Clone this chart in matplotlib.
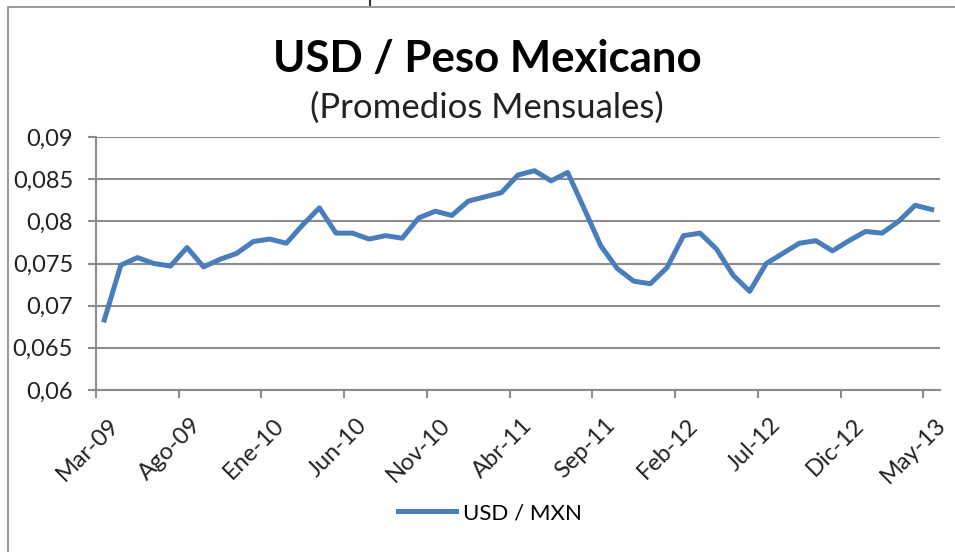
import matplotlib
matplotlib.use("Agg")
import matplotlib.pyplot as plt
from matplotlib.patches import Rectangle
from matplotlib.lines import Line2D
from matplotlib.transforms import ScaledTranslation

# monthly averages, Mar-09 .. May-13
values = [
    0.0683, 0.0748, 0.0757, 0.0750, 0.0747, 0.0769, 0.0746, 0.0755, 0.0762, 0.0776,
    0.0779, 0.0774, 0.0796, 0.0816, 0.0786, 0.0786, 0.0779, 0.0783, 0.0780, 0.0804,
    0.0812, 0.0807, 0.0824, 0.0829, 0.0834, 0.0855, 0.0860, 0.0848, 0.0858, 0.0815,
    0.0771, 0.0744, 0.0729, 0.0726, 0.0745, 0.0783, 0.0786, 0.0767, 0.0736, 0.0717,
    0.0750, 0.0762, 0.0774, 0.0777, 0.0765, 0.0777, 0.0788, 0.0786, 0.0800, 0.0819,
    0.0814,
]
x_labels = ['Mar-09', 'Ago-09', 'Ene-10', 'Jun-10', 'Nov-10', 'Abr-11',
            'Sep-11', 'Feb-12', 'Jul-12', 'Dic-12', 'May-13']
y_ticks = [0.06, 0.065, 0.07, 0.075, 0.08, 0.085, 0.09]
y_labels = ['0,06', '0,065', '0,07', '0,075', '0,08', '0,085', '0,09']

plt.rcParams['font.family'] = ['Lato', 'DejaVu Sans']

W, H = 955, 552
fig = plt.figure(figsize=(W / 100, H / 100), dpi=100)

# outer chart border (cropped on the right and bottom)
fig.patches.append(Rectangle((8 / W, -0.05), 1.1, 1 - 7 / H + 0.05,
                             transform=fig.transFigure, fill=False,
                             edgecolor='#888888', linewidth=1.2))
fig.lines.append(Line2D([370 / W, 370 / W], [1, 1 - 5 / H],
                        transform=fig.transFigure, color='#333333', linewidth=1.5))

ax = fig.add_axes([96 / W, 1 - 390 / H, 844 / W, 253 / H])

months = [i + 0.5 for i in range(len(values))]
ax.plot(months, values, color='#4A7EBB', linewidth=3.6, label='USD / MXN')

ax.set_xlim(0, len(values))
ax.set_ylim(0.06, 0.09)
ax.set_yticks(y_ticks)
ax.set_yticklabels(y_labels)
ax.set_xticks(range(0, len(values), 5))
ax.set_xticklabels(x_labels, rotation=45, ha='right', rotation_mode='anchor')

ax.yaxis.grid(True, color='#8c8c8c', linewidth=1.5)
ax.set_axisbelow(True)
for side in ['top', 'right']:
    ax.spines[side].set_visible(False)
for side in ['left', 'bottom']:
    ax.spines[side].set_color('#8c8c8c')
    ax.spines[side].set_linewidth(1.5)
ax.tick_params(axis='both', colors='#8c8c8c', width=1.5, length=5.5,
               labelcolor='#222222', labelsize=17)
ax.tick_params(axis='y', pad=11)
ax.tick_params(axis='x', pad=12)

# shift rotated month labels a bit to the right, as in the original
shift = ScaledTranslation(0.12, 0, fig.dpi_scale_trans)
for lab in ax.get_xticklabels():
    lab.set_transform(lab.get_transform() + shift)

fig.text(487 / W, 1 - 59 / H, 'USD / Peso Mexicano', ha='center', va='center',
         fontsize=31.5, fontweight='bold', color='black')
fig.text(487 / W, 1 - 108 / H, '(Promedios Mensuales)', ha='center', va='center',
         fontsize=25, color='#222222')

ax.legend(loc='center', bbox_to_anchor=(490 / W, 1 - 513 / H),
          bbox_transform=fig.transFigure, frameon=False, fontsize=16,
          handlelength=2.6, handletextpad=0.35)

fig.savefig('out.png', dpi=100)
